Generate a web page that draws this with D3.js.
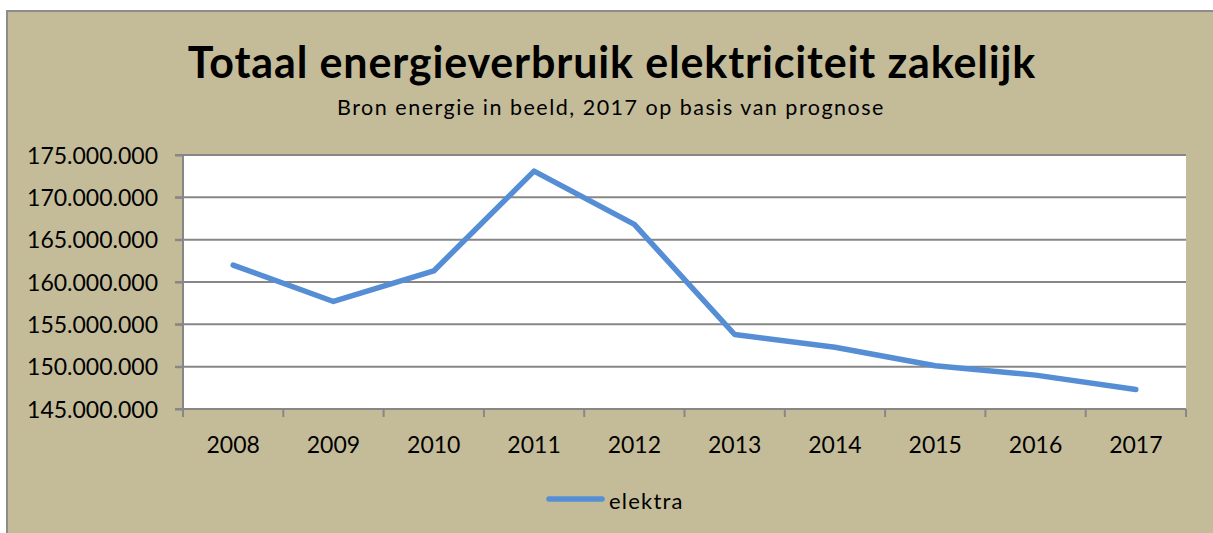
<!DOCTYPE html>
<html>
<head>
<meta charset="utf-8">
<script src="https://cdn.jsdelivr.net/npm/d3@7"></script>
<style>
  html, body { margin: 0; padding: 0; background: #ffffff; }
  svg { display: block; }
</style>
</head>
<body>
<svg id="chart" width="1213" height="533"></svg>
<script>
const categories = ["2008","2009","2010","2011","2012","2013","2014","2015","2016","2017"];
const seriesName = "elektra";
const values = [162000000, 157700000, 161300000, 173100000, 166800000, 153800000, 152300000, 150100000, 149000000, 147300000];
const yTicks = [145000000, 150000000, 155000000, 160000000, 165000000, 170000000, 175000000];
const titleText = "Totaal energieverbruik elektriciteit zakelijk";
const subtitleText = "Bron energie in beeld, 2017 op basis van prognose";

const svg = d3.select("#chart");
const font = "Lato, 'Open Sans', 'DejaVu Sans', sans-serif";
const bg = "#C4BC99";
const gridCol = "#878787";
const lineCol = "#558ED5";

// chart area background + border
svg.append("rect").attr("x", 7).attr("y", 11).attr("width", 1213).attr("height", 530)
  .attr("fill", bg).attr("stroke", "#8c8c8c").attr("stroke-width", 2);

const plot = {left: 183, top: 155, right: 1186, bottom: 409};

svg.append("rect").attr("x", plot.left).attr("y", plot.top)
  .attr("width", plot.right - plot.left).attr("height", plot.bottom - plot.top)
  .attr("fill", "#ffffff");

const x = d3.scaleBand().domain(categories).range([plot.left, plot.right]).padding(0);
const y = d3.scaleLinear().domain([145000000, 175000000]).range([plot.bottom, plot.top]);

const fmt = v => d3.format(",")(v).replace(/,/g, ".");

// gridlines
svg.append("g").selectAll("line").data(yTicks).join("line")
  .attr("x1", plot.left - 8).attr("x2", plot.right)
  .attr("y1", d => y(d)).attr("y2", d => y(d))
  .attr("stroke", gridCol).attr("stroke-width", 2);

// y axis
const yAxis = svg.append("g").attr("transform", `translate(${plot.left},0)`)
  .call(d3.axisLeft(y).tickValues(yTicks).tickFormat(fmt).tickSize(8).tickPadding(17));
yAxis.select(".domain").attr("stroke", gridCol).attr("stroke-width", 2).attr("d", `M0,${plot.top}V${plot.bottom}`);
yAxis.selectAll(".tick line").attr("stroke", gridCol).attr("stroke-width", 2);
yAxis.selectAll(".tick text").attr("font-family", font).attr("font-size", 23).attr("fill", "#000")
  .attr("dy", "0.36em");

// x axis
const xAxis = svg.append("g").attr("transform", `translate(0,${plot.bottom})`)
  .call(d3.axisBottom(x).tickSize(0).tickPadding(0));
xAxis.select(".domain").attr("stroke", gridCol).attr("stroke-width", 2).attr("d", `M${plot.left},0H${plot.right}`);
xAxis.selectAll(".tick text").attr("font-family", font).attr("font-size", 23).attr("fill", "#000")
  .attr("y", 44).attr("dy", 0);
const bounds = categories.map(c => x(c)).concat([x(categories[categories.length - 1]) + x.bandwidth()]);
svg.append("g").selectAll("line").data(bounds).join("line")
  .attr("x1", d => d).attr("x2", d => d)
  .attr("y1", plot.bottom).attr("y2", plot.bottom + 8)
  .attr("stroke", gridCol).attr("stroke-width", 2);

// line
const line = d3.line()
  .x((d, i) => x(categories[i]) + x.bandwidth() / 2)
  .y(d => y(d));
svg.append("path").datum(values).attr("d", line)
  .attr("fill", "none").attr("stroke", lineCol).attr("stroke-width", 5.5)
  .attr("stroke-linejoin", "round").attr("stroke-linecap", "round");

// title
svg.append("text").attr("x", 612).attr("y", 78).attr("text-anchor", "middle")
  .attr("font-family", font).attr("font-weight", "bold").attr("font-size", 43)
  .attr("letter-spacing", 0.85)
  .attr("fill", "#000").text(titleText);
svg.append("text").attr("x", 611).attr("y", 115).attr("text-anchor", "middle")
  .attr("font-family", font).attr("font-size", 21.5).attr("letter-spacing", 1.5)
  .attr("fill", "#000").text(subtitleText);

// legend
svg.append("line").attr("x1", 549).attr("x2", 602).attr("y1", 499).attr("y2", 499)
  .attr("stroke", lineCol).attr("stroke-width", 5.5).attr("stroke-linecap", "round");
svg.append("text").attr("x", 609).attr("y", 509)
  .attr("font-family", font).attr("font-size", 22).attr("letter-spacing", 1.2)
  .attr("fill", "#000").text(seriesName);
</script>
</body>
</html>
